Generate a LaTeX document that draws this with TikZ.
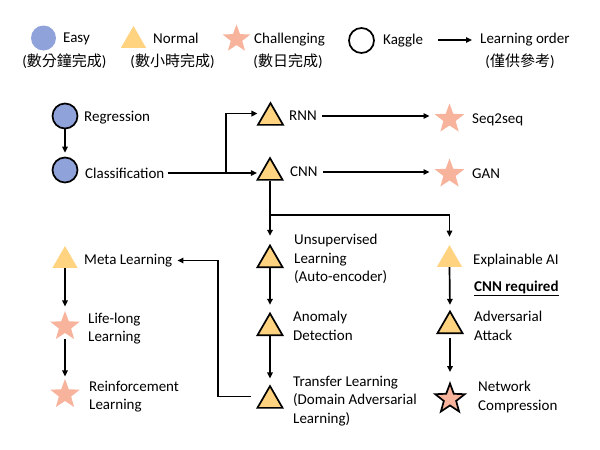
\documentclass[tikz,border=0pt]{standalone}
\usepackage{fontspec}
\setmainfont{Carlito}
\newfontfamily\cjk{Noto Sans CJK TC}
\usetikzlibrary{shapes.geometric, arrows.meta, positioning, calc}
\definecolor{easyblue}{HTML}{8FA3DA}
\definecolor{normalgold}{HTML}{FFD37F}
\definecolor{hardsalmon}{HTML}{F7B39B}

\begin{document}
\begin{tikzpicture}[
    x=1pt, y=-1pt,
    every node/.style={font=\fontsize{15}{18.5}\selectfont},
    easytask/.style={circle, fill=easyblue, minimum size=25pt, inner sep=0pt},
    normaltask/.style={regular polygon, regular polygon sides=3, fill=normalgold, minimum size=29pt, inner sep=0pt},
    hardtask/.style={star, star points=5, star point ratio=2.4, fill=hardsalmon, minimum size=31pt, inner sep=0pt},
    outlined/.style={draw, line width=1.7pt},
    desc/.style={anchor=west, inner sep=0pt, align=left},
    sub/.style={inner sep=0pt},
    arrow/.style={-{Triangle[length=6pt, width=5.5pt]}, line width=1.7pt}
]
\useasboundingbox (0,0) rectangle (600,450);

\node[easytask] (legeasy) at (43.5,38) {};
\node[desc] (legeasytxt) at (63,38.5) {Easy};
\node[sub] (legeasysub) at (64.5,61) {({\cjk 數分鐘完成})};
\node[normaltask] (legnormal) at (133.5,40.5) {};
\node[desc] (legnormaltxt) at (153,38.5) {Normal};
\node[sub] (legnormalsub) at (172.5,61) {({\cjk 數小時完成})};
\node[hardtask, minimum size=29pt] (leghard) at (236.5,39) {};
\node[desc] (leghardtxt) at (254,39.5) {Challenging};
\node[sub] (leghardsub) at (288,61) {({\cjk 數日完成})};
\node[easytask, fill=white, outlined] (legkaggle) at (361.5,40.5) {};
\node[desc] (legkaggletxt) at (383,40.5) {Kaggle};
\node[desc] (legorder) at (480,39.5) {Learning order};
\node[sub] (legordersub) at (520,61) {({\cjk 僅供參考})};
\coordinate (legfrom) at (438,40);
\draw[arrow, shorten >=8pt] (legfrom) -- (legfrom -| legorder.west);

\node[easytask, outlined] (regression) at (65,116) {};
\node[desc] (regressiontxt) at (84,117.5) {Regression};
\node[easytask, outlined] (classification) at (65,170) {};
\node[desc] (classificationtxt) at (85,173) {Classification};
\node[normaltask, outlined] (rnn) at (270.5,117.6) {};
\node[desc] (rnntxt) at (289,116) {RNN};
\node[normaltask, outlined] (cnn) at (270,172.6) {};
\node[desc] (cnntxt) at (290,172) {CNN};
\node[hardtask] (seq2seq) at (449.5,119) {};
\node[desc] (seq2seqtxt) at (472,119.5) {Seq2seq};
\node[hardtask] (gan) at (449.5,174) {};
\node[desc] (gantxt) at (472,173.5) {GAN};

\node[normaltask, outlined] (unsup) at (270,260) {};
\node[desc] (unsuptxt) at (294,259) {Unsupervised\\Learning\\(Auto-encoder)};
\node[normaltask, outlined] (anomaly) at (270,328) {};
\node[desc] (anomalytxt) at (293,326) {Anomaly\\Detection};
\node[normaltask, outlined] (transfer) at (270,400.6) {};
\node[desc] (transfertxt) at (293,401) {Transfer Learning\\(Domain Adversarial\\Learning)};

\node[normaltask] (meta) at (65,260.6) {};
\node[desc] (metatxt) at (84,260.5) {Meta Learning};
\node[hardtask] (lifelong) at (65,326.5) {};
\node[desc] (lifelongtxt) at (88,328.5) {Life-long\\Learning};
\node[hardtask] (reinforce) at (65,394.5) {};
\node[desc] (reinforcetxt) at (89,396.5) {Reinforcement\\Learning};

\node[normaltask] (xai) at (449.5,259.6) {};
\node[desc] (xaitxt) at (473,260.5) {Explainable AI};
\node[desc, font=\fontsize{15}{18.5}\selectfont\bfseries] (cnnreq) at (474,288.5) {\underline{CNN required}};
\node[normaltask, outlined] (adversarial) at (450,326) {};
\node[desc] (adversarialtxt) at (474,326) {Adversarial\\Attack};
\node[hardtask, outlined] (compression) at (450,399) {};
\node[desc] (compressiontxt) at (478,397) {Network\\Compression};

\coordinate (split) at (226,173);
\coordinate (fork) at (270,215);

\draw[arrow, shorten >=4pt] (regression) -- (classification);
\draw[arrow, shorten <=3pt, shorten >=6pt] (classificationtxt.east) -- (classificationtxt.east -| cnn.side 1);
\draw[arrow, shorten >=6pt] (split) |- (rnn.side 1);
\draw[arrow, shorten <=5pt, shorten >=11pt] (rnntxt.east) -- (rnntxt.east -| seq2seq.west);
\draw[arrow, shorten <=5pt, shorten >=11pt] (cnntxt.east) -- (cnntxt.east -| gan.west);
\draw[arrow, shorten >=8pt] (cnn.side 2) -- (unsup.corner 1);
\draw[arrow, shorten >=8pt] (fork) -| (xai.corner 1);
\draw[arrow, shorten >=7pt] (unsup.side 2) -- (anomaly.corner 1);
\draw[arrow, shorten >=6pt] (anomaly.side 2) -- (transfer.corner 1);
\draw[arrow, shorten <=12pt, shorten >=5pt] (transfer.side 1) -- ++(-45,0) |- (metatxt.east);
\draw[arrow, shorten >=4pt] (meta.side 2) -- (lifelong.north);
\draw[arrow, shorten <=6pt, shorten >=2pt] (lifelong.south) -- (reinforce.north);
\draw[arrow, shorten >=5pt] (xai.side 2) -- (adversarial.corner 1);
\draw[arrow, shorten <=4pt, shorten >=9pt] (adversarial.side 2) -- (compression.north);
\end{tikzpicture}
\end{document}
